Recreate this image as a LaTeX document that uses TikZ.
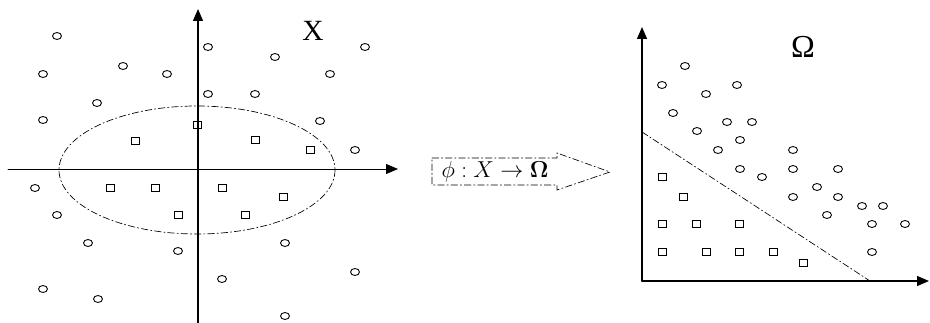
\documentclass[tikz,border=0pt]{standalone}
\usepackage[no-math]{fontspec}
\setmainfont{Liberation Serif}
\usetikzlibrary{arrows.meta}

\begin{document}
\begin{tikzpicture}[x=.75pt,y=-.75pt,line cap=round,
  axis/.style={line width=1pt,-{Triangle[length=9pt,width=7.5pt]}},
  thinaxis/.style={axis,line width=.6pt},
  dashdot/.style={line width=.5pt,dash pattern=on 5pt off 2pt on 1pt off 2pt},
  pt/.style={line width=.65pt}]
  \useasboundingbox (0,0) rectangle (930,323);
  % input space X
  \coordinate (xl) at (8,169); \coordinate (xr) at (398,169);
  \coordinate (yb) at (198,323); \coordinate (yt) at (198,9);
  \draw[thinaxis] (xl)--(xr); \draw[axis] (yb)--(yt);
  \draw[dashdot] (197,170) ellipse [x radius=138,y radius=64];
  \node[font=\fontsize{22}{26}\selectfont] (X) at (313,31) {X};
  \foreach \p in {(57,36),(208,47),(275,57),(365,47),(43,74),(123,66),(167,74),(330,74),
    (208,94),(255,94),(97,103),(43,120),(320,121),(355,150),(35,188),(57,215),(88,243),
    (178,251),(285,243),(355,272),(222,279),(43,289),(98,299),(285,316)}
    \draw[pt] \p ellipse [x radius=4.5,y radius=3.5];
  \foreach \p in {(197,125),(135,141),(255,140),(310,150),(110,188),(155,188),(222,188),
    (283,197),(178,215),(245,215)}
    \draw[pt] \p ++(-4,-3.5) rectangle ++(8,7);
  % feature map
  \draw[dashdot] (432,158)--(557,158)--(557,153)--(610,172)--(557,190)--(557,185)--(432,185)--cycle;
  \node[font=\fontsize{17}{20}\selectfont] (map) at (495,171.5) {$\phi : X \rightarrow \mathbf{\Omega}$};
  % feature space Omega
  \coordinate (o) at (642,281); \coordinate (ot) at (642,27); \coordinate (or) at (929,281);
  \draw[axis] (o)--(ot); \draw[axis] (o)--(or);
  \coordinate (sa) at (642,132); \coordinate (sb) at (870,281);
  \draw[dashdot] (sa)--(sb);
  \node[font=\fontsize{24}{28}\selectfont] (W) at (803,47) {Ω};
  \foreach \p in {(685,66),(662,85),(737,85),(706,94),(673,113),(727,122),(752,122),(697,131),
    (740,140),(718,150),(793,150),(740,169),(793,169),(838,169),(762,177),(817,187),(793,197),
    (838,197),(862,206),(883,206),(827,215),(872,224),(905,224),(872,252)}
    \draw[pt] \p ellipse [x radius=4.5,y radius=3.5];
  \foreach \p in {(662,177),(683,197),(662,224),(696,224),(739,224),(662,252),(706,252),
    (739,252),(773,252),(803,263)}
    \draw[pt] \p ++(-4,-3.5) rectangle ++(8,7);
\end{tikzpicture}
\end{document}
